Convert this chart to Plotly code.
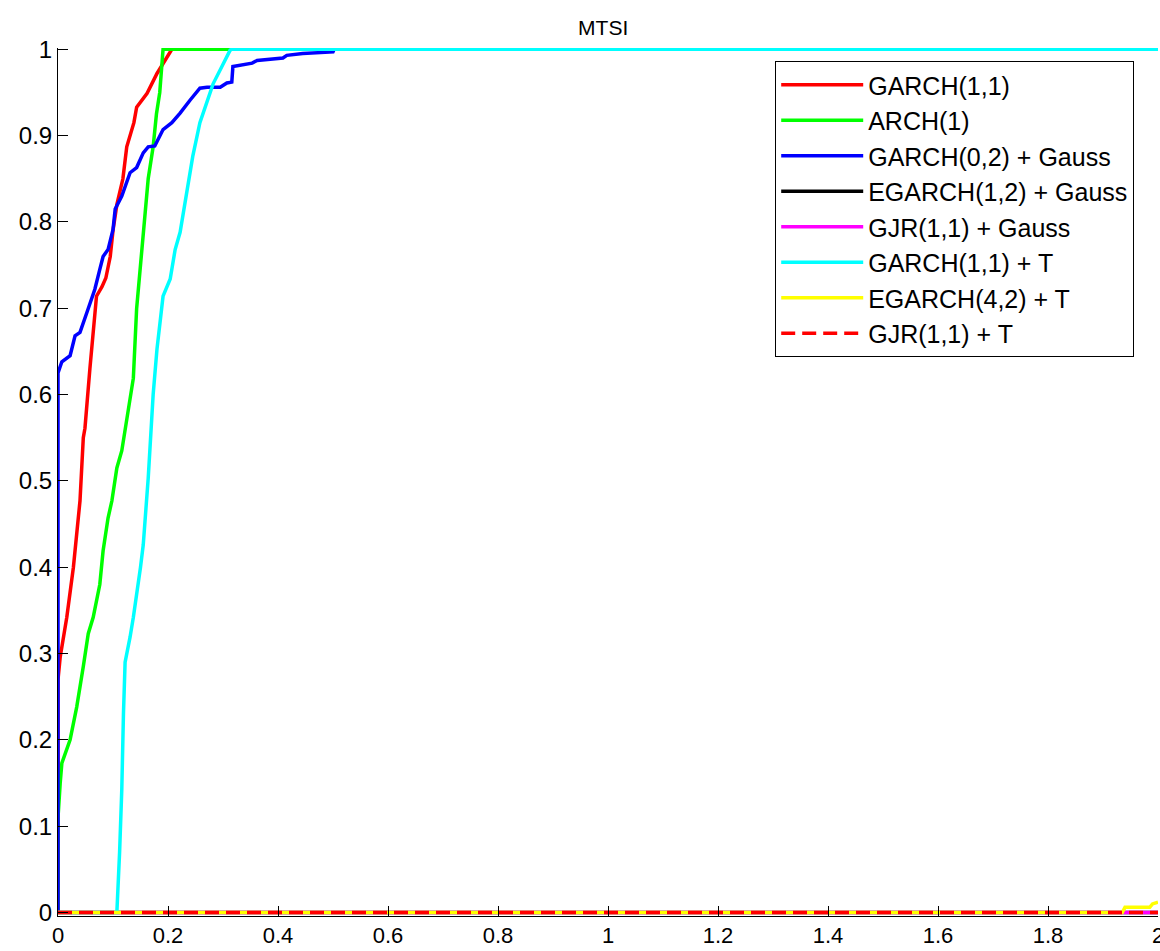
import plotly.graph_objects as go

# ---- data ----
names = ["GARCH(1,1)", "ARCH(1)", "GARCH(0,2) + Gauss", "EGARCH(1,2) + Gauss",
         "GJR(1,1) + Gauss", "GARCH(1,1) + T", "EGARCH(4,2) + T", "GJR(1,1) + T"]

garch11_x = [0, 0, 0.004, 0.016, 0.028, 0.040, 0.046, 0.049, 0.058, 0.062, 0.070, 0.080,
             0.087, 0.095, 0.100, 0.107, 0.118, 0.125, 0.138, 0.143, 0.162, 0.180, 0.198, 0.207, 2.0]
garch11_y = [0, 0.27, 0.296, 0.342, 0.400, 0.477, 0.550, 0.561, 0.630, 0.657, 0.714, 0.725,
             0.735, 0.760, 0.790, 0.820, 0.850, 0.887, 0.915, 0.933, 0.949, 0.972, 0.991, 1.0, 1.0]

arch1_x = [0, 0, 0.004, 0.007, 0.022, 0.034, 0.046, 0.055, 0.064, 0.076, 0.082, 0.091,
           0.098, 0.107, 0.116, 0.125, 0.137, 0.143, 0.152, 0.157, 0.164, 0.173, 0.179, 0.185, 0.191, 2.0]
arch1_y = [0, 0.11, 0.150, 0.173, 0.200, 0.238, 0.285, 0.323, 0.342, 0.380, 0.419, 0.457,
           0.477, 0.515, 0.535, 0.570, 0.619, 0.700, 0.760, 0.800, 0.850, 0.887, 0.925, 0.950, 1.0, 1.0]

garch02_x = [0, 0, 0.007, 0.022, 0.031, 0.040, 0.053, 0.062, 0.067, 0.076, 0.082, 0.091,
             0.100, 0.104, 0.116, 0.131, 0.143, 0.155, 0.164, 0.176, 0.191, 0.207, 0.222, 0.240,
             0.258, 0.271, 0.295, 0.307, 0.316, 0.318, 0.353, 0.362, 0.409, 0.416, 0.445, 0.500,
             0.502, 2.0]
garch02_y = [0, 0.625, 0.638, 0.645, 0.668, 0.672, 0.696, 0.714, 0.722, 0.745, 0.760, 0.768,
             0.791, 0.815, 0.830, 0.857, 0.863, 0.880, 0.887, 0.888, 0.907, 0.915, 0.926, 0.941,
             0.955, 0.956, 0.956, 0.961, 0.962, 0.980, 0.984, 0.987, 0.990, 0.993, 0.995, 0.997,
             1.0, 1.0]

egarch12g_x = [0, 2.0]
egarch12g_y = [0, 0]

gjr11g_x = [0, 2.0]
gjr11g_y = [0, 0]

garch11t_x = [0, 0.107, 0.112, 0.116, 0.119, 0.122, 0.131, 0.137, 0.150, 0.155, 0.164, 0.173, 0.180,
              0.191, 0.204, 0.213, 0.222, 0.235, 0.245, 0.258, 0.271, 0.282, 0.298, 0.313, 0.316, 2.0]
garch11t_y = [0, 0.0, 0.070, 0.143, 0.230, 0.290, 0.319, 0.342, 0.400, 0.426, 0.503, 0.600, 0.653,
              0.714, 0.734, 0.768, 0.788, 0.838, 0.876, 0.915, 0.941, 0.960, 0.980, 0.999, 1.0, 1.0]

egarch42t_x = [0, 1.935, 1.94, 1.985, 1.99, 2.0]
egarch42t_y = [0, 0, 0.006, 0.006, 0.010, 0.012]

gjr11t_x = [0, 2.0]
gjr11t_y = [0, 0]

series_x = [garch11_x, arch1_x, garch02_x, egarch12g_x, gjr11g_x, garch11t_x, egarch42t_x, gjr11t_x]
series_y = [garch11_y, arch1_y, garch02_y, egarch12g_y, gjr11g_y, garch11t_y, egarch42t_y, gjr11t_y]
colors = ["#FF0000", "#00FF00", "#0000FF", "#000000", "#FF00FF", "#00FFFF", "#FFFF00", "#FF0000"]
dashes = ["solid"] * 7 + ["14px,7px"]

x_ticks = [0, 0.2, 0.4, 0.6, 0.8, 1.0, 1.2, 1.4, 1.6, 1.8, 2.0]
x_ticktext = ["0", "0.2", "0.4", "0.6", "0.8", "1", "1.2", "1.4", "1.6", "1.8", "2"]
y_ticks = [0, 0.1, 0.2, 0.3, 0.4, 0.5, 0.6, 0.7, 0.8, 0.9, 1.0]
y_ticktext = ["0", "0.1", "0.2", "0.3", "0.4", "0.5", "0.6", "0.7", "0.8", "0.9", "1"]

fig = go.Figure()
for i, (nm, xs, ys, c, d) in enumerate(zip(names, series_x, series_y, colors, dashes)):
    fig.add_trace(go.Scatter(
        x=xs, y=ys, mode="lines", name=nm, legendgroup=f"g{i}",
        line=dict(color=c, width=3.5, dash=d),
    ))

font_family = "Liberation Sans, Arial, sans-serif"
fig.update_layout(
    width=1160, height=951,
    margin=dict(l=58, r=2, t=48, b=35),
    paper_bgcolor="white", plot_bgcolor="white",
    font=dict(family=font_family, size=24, color="black"),
    title=dict(text="MTSI", x=0.52, xanchor="center", y=1 - 28 / 951, yanchor="middle",
               yref="container", font=dict(size=21, family=font_family, color="black")),
    showlegend=True,
    legend=dict(
        x=0.652, y=0.985, xanchor="left", yanchor="top",
        bgcolor="white", bordercolor="black", borderwidth=1,
        font=dict(size=25, family=font_family, color="black"),
        itemwidth=82, tracegroupgap=0,
    ),
    xaxis=dict(
        range=[0, 2], tickvals=x_ticks, ticktext=x_ticktext, automargin=False,
        showgrid=False, zeroline=False, showline=True, linecolor="black", linewidth=1,
        ticks="inside", ticklen=10, tickcolor="black", tickfont=dict(size=22),
        ticklabeloverflow="allow",
    ),
    yaxis=dict(
        range=[-0.004, 1.0015], tickvals=y_ticks, ticktext=y_ticktext, automargin=False,
        showgrid=False, zeroline=False, showline=True, linecolor="black", linewidth=1,
        ticks="inside", ticklen=10, tickcolor="black", tickfont=dict(size=24),
    ),
)

fig.write_html("out.html")
